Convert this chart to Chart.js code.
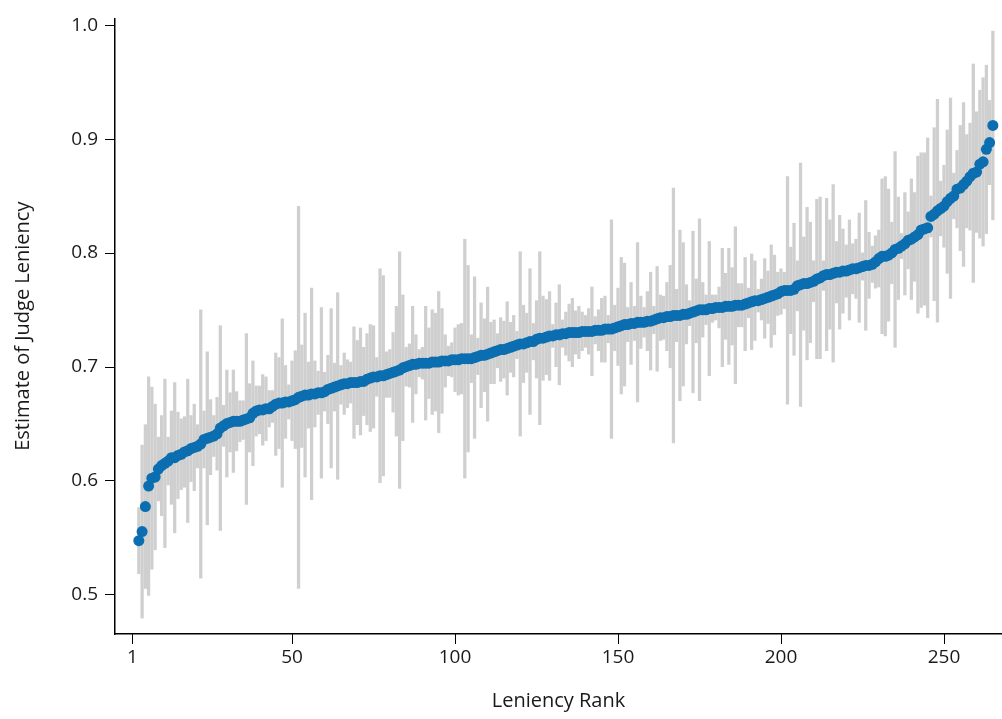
<!DOCTYPE html>
<html>
<head>
<meta charset="utf-8">
<script src="https://cdn.jsdelivr.net/npm/chart.js@4.4.1/dist/chart.umd.min.js"></script>
<style>
  html,body{margin:0;padding:0;background:#fff;overflow:hidden;}
  #wrap{width:1002px;height:719px;position:relative;}
  .tk{position:absolute;background:#000;pointer-events:none;}
</style>
</head>
<body>
<div id="wrap"><canvas id="chart"></canvas><div id="marks"></div></div>
<script>
// leniency rank of the first judge shown
const firstRank = 3;

// point estimate per judge, ordered by rank
const estimate = [
  0.547,0.555,0.577,0.595,0.602,0.603,0.610,0.613,0.615,0.617,
  0.620,0.620,0.622,0.623,0.625,0.626,0.628,0.629,0.630,0.632,
  0.636,0.637,0.638,0.639,0.641,0.646,0.648,0.650,0.651,0.652,
  0.652,0.652,0.653,0.654,0.655,0.659,0.661,0.662,0.662,0.663,
  0.663,0.665,0.667,0.668,0.668,0.669,0.669,0.670,0.671,0.673,
  0.674,0.675,0.675,0.676,0.676,0.677,0.677,0.678,0.680,0.681,
  0.682,0.683,0.684,0.685,0.685,0.686,0.686,0.686,0.687,0.687,
  0.689,0.690,0.691,0.691,0.692,0.692,0.693,0.694,0.695,0.696,
  0.697,0.699,0.700,0.701,0.702,0.702,0.703,0.703,0.703,0.703,
  0.704,0.704,0.704,0.705,0.705,0.705,0.706,0.706,0.706,0.707,
  0.707,0.707,0.707,0.708,0.709,0.710,0.710,0.711,0.712,0.713,
  0.714,0.715,0.715,0.716,0.717,0.718,0.719,0.720,0.720,0.721,
  0.722,0.722,0.724,0.725,0.725,0.726,0.727,0.727,0.728,0.728,
  0.729,0.729,0.730,0.730,0.730,0.730,0.731,0.731,0.731,0.731,
  0.732,0.732,0.732,0.733,0.733,0.733,0.734,0.735,0.736,0.737,
  0.737,0.738,0.738,0.739,0.739,0.739,0.740,0.740,0.741,0.742,
  0.743,0.743,0.744,0.744,0.745,0.745,0.745,0.746,0.746,0.747,
  0.748,0.749,0.750,0.750,0.750,0.751,0.751,0.752,0.752,0.752,
  0.753,0.753,0.753,0.754,0.754,0.754,0.755,0.756,0.757,0.758,
  0.758,0.759,0.760,0.761,0.762,0.763,0.764,0.766,0.767,0.767,
  0.767,0.768,0.771,0.772,0.773,0.773,0.774,0.775,0.777,0.778,
  0.780,0.781,0.781,0.782,0.783,0.783,0.784,0.784,0.785,0.786,
  0.786,0.787,0.788,0.789,0.789,0.790,0.792,0.795,0.797,0.797,
  0.798,0.800,0.803,0.804,0.806,0.808,0.811,0.812,0.814,0.816,
  0.820,0.821,0.822,0.832,0.834,0.837,0.839,0.841,0.845,0.848,
  0.850,0.856,0.857,0.860,0.863,0.867,0.870,0.871,0.878,0.880,
  0.891,0.897,0.912
];

// half width of the confidence interval, same order
const ciHalf = [
  0.029,0.076,0.072,0.096,0.080,0.064,0.028,0.044,0.074,0.021,
  0.041,0.066,0.038,0.031,0.031,0.063,0.029,0.038,0.019,0.118,
  0.025,0.076,0.033,0.018,0.032,0.090,0.018,0.047,0.026,0.045,
  0.026,0.018,0.017,0.075,0.030,0.046,0.022,0.021,0.031,0.028,
  0.016,0.014,0.045,0.040,0.074,0.032,0.015,0.035,0.043,0.168,
  0.045,0.072,0.029,0.093,0.029,0.019,0.075,0.017,0.030,0.070,
  0.021,0.082,0.017,0.027,0.021,0.018,0.049,0.037,0.047,0.030,
  0.040,0.047,0.045,0.017,0.094,0.088,0.020,0.021,0.035,0.057,
  0.104,0.064,0.017,0.019,0.051,0.026,0.012,0.014,0.050,0.031,
  0.046,0.043,0.062,0.046,0.023,0.013,0.015,0.028,0.031,0.031,
  0.105,0.082,0.021,0.071,0.016,0.046,0.032,0.059,0.027,0.028,
  0.015,0.028,0.025,0.041,0.022,0.027,0.012,0.081,0.034,0.026,
  0.064,0.016,0.034,0.076,0.037,0.033,0.039,0.010,0.028,0.044,
  0.012,0.019,0.025,0.030,0.019,0.023,0.017,0.014,0.020,0.039,
  0.012,0.018,0.028,0.029,0.012,0.096,0.020,0.034,0.060,0.054,
  0.015,0.036,0.015,0.070,0.023,0.013,0.026,0.043,0.012,0.046,
  0.020,0.019,0.030,0.045,0.112,0.023,0.075,0.063,0.026,0.011,
  0.071,0.028,0.080,0.024,0.013,0.059,0.012,0.011,0.018,0.052,
  0.029,0.051,0.034,0.069,0.019,0.019,0.041,0.013,0.042,0.035,
  0.010,0.018,0.035,0.023,0.045,0.035,0.019,0.020,0.016,0.100,
  0.038,0.058,0.022,0.107,0.041,0.067,0.053,0.018,0.070,0.071,
  0.013,0.067,0.048,0.078,0.027,0.050,0.037,0.023,0.044,0.022,
  0.026,0.048,0.012,0.057,0.029,0.016,0.023,0.025,0.068,0.070,
  0.058,0.027,0.086,0.045,0.011,0.045,0.025,0.053,0.039,0.069,
  0.068,0.067,0.079,0.018,0.076,0.098,0.024,0.036,0.063,0.088,
  0.020,0.034,0.055,0.072,0.041,0.047,0.096,0.053,0.065,0.074,
  0.074,0.037,0.083
];

const xTicks = [1, 50, 100, 150, 200, 250];
const yTicks = [0.5, 0.6, 0.7, 0.8, 0.9, 1.0];

const ranks = estimate.map((_, i) => firstRank + i);
const pts = ranks.map((r, i) => ({x: r, y: estimate[i]}));
const bars = ranks.map((r, i) => ({x: r, y: [estimate[i] - ciHalf[i], estimate[i] + ciHalf[i]]}));

const font = '"Open Sans", "Noto Sans", sans-serif';
const ink = '#1a1a1a';
const TICK = 10;

// outward tick marks as small divs, placed from the scales' own pixel positions
const tickMarks = {
  id: 'tickMarks',
  afterDraw(chart) {
    const sx = chart.scales.x, sy = chart.scales.y;
    let html = '';
    sx.ticks.forEach(t => {
      const px = Math.round(sx.getPixelForValue(t.value));
      html += `<div class="tk" style="left:${px - 0.5}px;top:${sx.top}px;width:1.5px;height:${TICK}px"></div>`;
    });
    sy.ticks.forEach(t => {
      const py = Math.round(sy.getPixelForValue(t.value));
      html += `<div class="tk" style="left:${sy.right - TICK}px;top:${py - 0.5}px;width:${TICK}px;height:1.5px"></div>`;
    });
    document.getElementById('marks').innerHTML = html;
  }
};

new Chart(document.getElementById('chart'), {
  type: 'scatter',
  data: {
    datasets: [
      {type: 'bar', data: bars, backgroundColor: '#cfcfcf', borderWidth: 0, barThickness: 2.6, order: 2, clip: false},
      {type: 'scatter', data: pts, backgroundColor: '#0a6eb0', borderWidth: 0, pointRadius: 5.5, pointHoverRadius: 5.5, order: 1, clip: false}
    ]
  },
  options: {
    responsive: true,
    maintainAspectRatio: false,
    animation: false,
    layout: {autoPadding: false, padding: {top: 16, right: 0, left: 0, bottom: 0}},
    plugins: {legend: {display: false}, tooltip: {enabled: false}},
    scales: {
      x: {
        type: 'linear', min: -4.31, max: 267.8, offset: false,
        afterBuildTicks: s => { s.ticks = xTicks.map(v => ({value: v})); },
        afterFit: s => { s.height = 85; },
        grid: {offset: false, drawOnChartArea: false, drawTicks: true, tickLength: TICK, tickColor: 'rgba(0,0,0,0)'},
        border: {color: '#000', width: 1.5},
        ticks: {color: ink, font: {family: font, size: 19}, padding: 2, maxRotation: 0, autoSkip: false},
        title: {display: true, text: 'Leniency Rank', color: ink, font: {family: font, size: 20}, padding: {top: 0, bottom: 6}}
      },
      y: {
        type: 'linear', min: 0.465, max: 1.0061, offset: false,
        afterBuildTicks: s => { s.ticks = yTicks.map(v => ({value: v})); },
        afterFit: s => { s.width = 115; },
        grid: {offset: false, drawOnChartArea: false, drawTicks: true, tickLength: TICK, tickColor: 'rgba(0,0,0,0)'},
        border: {color: '#000', width: 1.5},
        ticks: {color: ink, font: {family: font, size: 19}, padding: 7, callback: v => v.toFixed(1)},
        title: {display: true, text: 'Estimate of Judge Leniency', color: ink, font: {family: font, size: 20}, padding: {top: 11, bottom: 0}}
      }
    }
  },
  plugins: [tickMarks]
});
</script>
</body>
</html>
